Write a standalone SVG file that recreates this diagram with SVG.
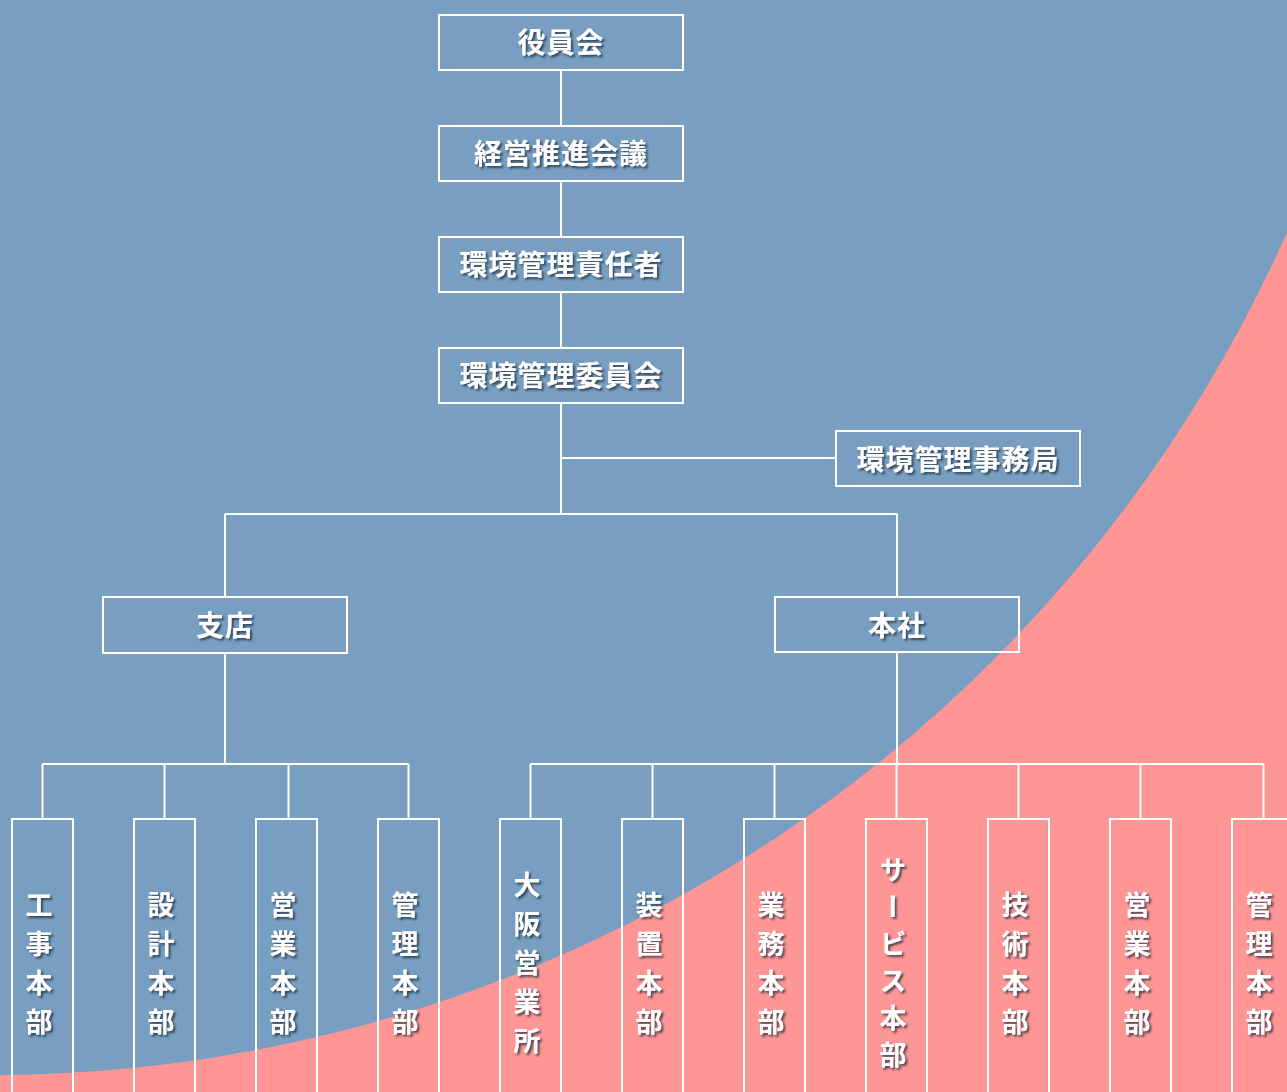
<svg xmlns="http://www.w3.org/2000/svg" width="1287" height="1092" viewBox="0 0 1287 1092">
<defs>
<filter id="sh" x="-20%" y="-20%" width="140%" height="140%">
<feDropShadow dx="2" dy="2" stdDeviation="1.3" flood-color="#1a2a3a" flood-opacity="0.75"/>
</filter>
</defs>
<style>
.box{fill:none;stroke:#fff;stroke-width:2}
.ln{fill:none;stroke:#fff;stroke-width:2}
.t{fill:#fff;font-family:"Noto Sans CJK JP","Noto Sans",sans-serif;font-weight:bold;font-size:28px;letter-spacing:1px;text-anchor:middle;filter:url(#sh)}
.v{fill:#fff;font-family:"Noto Sans CJK JP","Noto Sans",sans-serif;font-weight:bold;font-size:27px;letter-spacing:12px;text-anchor:middle;writing-mode:vertical-rl;filter:url(#sh)}
</style>
<rect x="0" y="0" width="1287" height="1092" fill="#FF9696"/>
<circle cx="-9" cy="-343" r="1418" fill="#789FC1"/>
<g id="connectors">
<path class="ln" d="M561 70V126M561 181V237M561 292V348M561 403V514M561 458H836M225 514H897M225 514V597M897 514V597"/>
<path class="ln" d="M225 653V764M42.5 764H408.5M42.5 764V819M164.5 764V819M288.5 764V819M408.5 764V819"/>
<path class="ln" d="M897 652V764M530.5 764H1263.5M530.5 764V819M652.5 764V819M774.5 764V819M896.5 764V819M1018.5 764V819M1140.5 764V819M1263.5 764V819"/>
</g>
<g id="n1"><rect class="box" x="439" y="15" width="244" height="55"/><text class="t" x="561" y="53">役員会</text></g>
<g id="n2"><rect class="box" x="439" y="126" width="244" height="55"/><text class="t" x="561" y="164">経営推進会議</text></g>
<g id="n3"><rect class="box" x="439" y="237" width="244" height="55"/><text class="t" x="561" y="275">環境管理責任者</text></g>
<g id="n4"><rect class="box" x="439" y="348" width="244" height="55"/><text class="t" x="561" y="386">環境管理委員会</text></g>
<g id="n5"><rect class="box" x="836" y="431" width="244" height="55"/><text class="t" x="958" y="470">環境管理事務局</text></g>
<g id="n6"><rect class="box" x="103" y="597" width="244" height="56"/><text class="t" x="225" y="636">支店</text></g>
<g id="n7"><rect class="box" x="775" y="597" width="244" height="55"/><text class="t" x="897" y="636">本社</text></g>
<g id="b1"><rect class="box" x="12" y="819" width="61" height="290"/><text class="v" x="39" y="969">工事本部</text></g>
<g id="b2"><rect class="box" x="134" y="819" width="61" height="290"/><text class="v" x="161" y="969">設計本部</text></g>
<g id="b3"><rect class="box" x="256" y="819" width="61" height="290"/><text class="v" x="283" y="969">営業本部</text></g>
<g id="b4"><rect class="box" x="378" y="819" width="61" height="290"/><text class="v" x="405" y="969">管理本部</text></g>
<g id="b5"><rect class="box" x="500" y="819" width="61" height="290"/><text class="v" x="527" y="969">大阪営業所</text></g>
<g id="b6"><rect class="box" x="622" y="819" width="61" height="290"/><text class="v" x="649" y="969">装置本部</text></g>
<g id="b7"><rect class="box" x="744" y="819" width="61" height="290"/><text class="v" x="771" y="969">業務本部</text></g>
<g id="b8"><rect class="box" x="866" y="819" width="61" height="290"/><text class="v" x="893" y="967" style="letter-spacing:10px">サービス本部</text></g>
<g id="b9"><rect class="box" x="988" y="819" width="61" height="290"/><text class="v" x="1015" y="969">技術本部</text></g>
<g id="b10"><rect class="box" x="1110" y="819" width="61" height="290"/><text class="v" x="1137" y="969">営業本部</text></g>
<g id="b11"><rect class="box" x="1232" y="819" width="61" height="290"/><text class="v" x="1259" y="969">管理本部</text></g>
</svg>
